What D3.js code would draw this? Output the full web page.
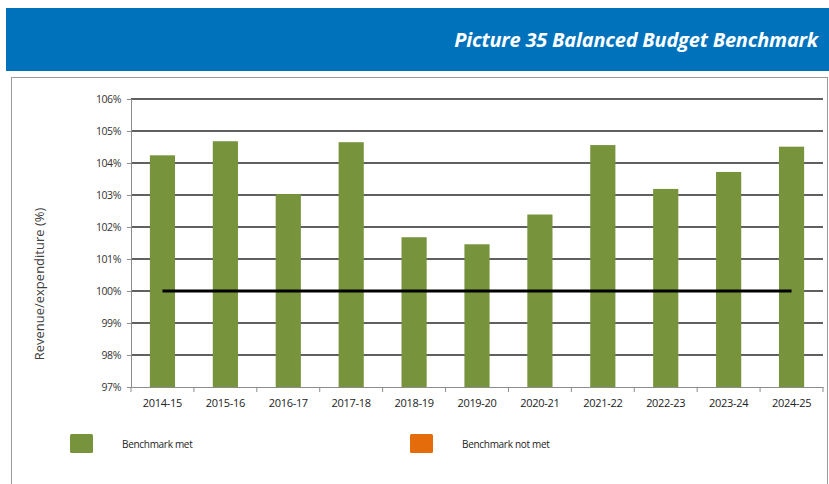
<!DOCTYPE html>
<html>
<head>
<meta charset="utf-8">
<script src="https://cdn.jsdelivr.net/npm/d3@7/dist/d3.min.js"></script>
<style>
  html, body { margin: 0; padding: 0; background: #ffffff; }
  svg { display: block; }
</style>
</head>
<body>
<svg id="chart" width="829" height="484"></svg>
<script>
// ---- data ----
const categories = ["2014-15","2015-16","2016-17","2017-18","2018-19","2019-20","2020-21","2021-22","2022-23","2023-24","2024-25"];
const ratioValues = [104.24, 104.68, 103.03, 104.65, 101.68, 101.46, 102.39, 104.56, 103.19, 103.72, 104.51];
const benchmarkValue = 100;
const yTicks = [97, 98, 99, 100, 101, 102, 103, 104, 105, 106];
const legendLabels = ["Benchmark met", "Benchmark not met"];
const titleText = "Picture 35 Balanced Budget Benchmark";
const yAxisTitle = "Revenue/expenditure (%)";

// ---- layout ----
const svg = d3.select("#chart");
const plot = { left: 131, right: 823, top: 99, bottom: 387 };
const green = "#77933C", orange = "#E46C0A";
const font = "'Open Sans', 'DejaVu Sans', sans-serif";

// header band
svg.append("rect").attr("x", 6).attr("y", 8).attr("width", 823).attr("height", 63).attr("fill", "#0072BC");
svg.append("text").attr("x", 818).attr("y", 47).attr("text-anchor", "end")
  .attr("fill", "#ffffff").attr("font-family", font).attr("font-weight", "bold")
  .attr("font-style", "italic").attr("font-size", 20).attr("letter-spacing", -0.2)
  .text(titleText);

// chart box
svg.append("rect").attr("x", 11.5).attr("y", 77.5).attr("width", 816).attr("height", 420)
  .attr("fill", "#ffffff").attr("stroke", "#9a9a9a").attr("stroke-width", 1);

// scales
const x = d3.scaleBand().domain(categories).range([plot.left, plot.right]).paddingInner(0.6).paddingOuter(0.3);
const xOuter = d3.scaleBand().domain(categories).range([plot.left, plot.right]).padding(0);
const y = d3.scaleLinear().domain([97, 106]).range([plot.bottom, plot.top]);

// gridlines
svg.append("g").selectAll("line").data(yTicks.filter(t => t > 97)).join("line")
  .attr("x1", plot.left).attr("x2", plot.right)
  .attr("y1", d => y(d)).attr("y2", d => y(d))
  .attr("stroke", "#2b2b2b").attr("stroke-width", 1.4);

// bars
svg.append("g").selectAll("rect").data(categories).join("rect")
  .attr("x", d => x(d)).attr("width", x.bandwidth())
  .attr("y", (d, i) => y(ratioValues[i]))
  .attr("height", (d, i) => y(97) - y(ratioValues[i]))
  .attr("fill", green);

// benchmark line
const lineGen = d3.line().x(d => xOuter(d) + xOuter.bandwidth() / 2).y(() => y(benchmarkValue));
svg.append("path").datum(categories).attr("d", lineGen)
  .attr("fill", "none").attr("stroke", "#000000").attr("stroke-width", 3);

// y axis
const yAxis = d3.axisLeft(y).tickValues(yTicks).tickFormat(d => d + "%").tickSize(4).tickPadding(6);
const gy = svg.append("g").attr("transform", `translate(${plot.left},0)`).call(yAxis);
gy.select(".domain").attr("stroke", "#8c8c8c");
gy.selectAll(".tick line").attr("stroke", "#8c8c8c");
gy.selectAll("text").attr("font-family", font).attr("font-size", 10.5).attr("fill", "#333333").attr("letter-spacing", -0.4);

// x axis
const xAxis = d3.axisBottom(xOuter).tickSize(0).tickPadding(12);
const gx = svg.append("g").attr("transform", `translate(0,${plot.bottom})`).call(xAxis);
gx.select(".domain").attr("stroke", "#8c8c8c");
gx.selectAll("text").attr("font-family", font).attr("font-size", 11).attr("fill", "#222222").attr("letter-spacing", -0.3);
// category boundary ticks
const bounds = categories.map(c => xOuter(c)).concat([plot.right]);
gx.append("g").selectAll("line").data(bounds).join("line")
  .attr("x1", d => d).attr("x2", d => d).attr("y1", 0).attr("y2", 5)
  .attr("stroke", "#8c8c8c");

// y axis title
svg.append("text").attr("transform", "translate(44,284) rotate(-90)")
  .attr("text-anchor", "middle").attr("font-family", font).attr("font-size", 13)
  .attr("fill", "#404040").text(yAxisTitle);

// legend
const legendX = [70, 410];
const legendColors = [green, orange];
const lg = svg.append("g").selectAll("g").data(legendLabels).join("g");
lg.append("rect").attr("x", (d, i) => legendX[i]).attr("y", 434).attr("width", 23).attr("height", 19)
  .attr("rx", 1.5).attr("fill", (d, i) => legendColors[i]);
lg.append("text").attr("x", (d, i) => legendX[i] + 52).attr("y", 447.5)
  .attr("font-family", font).attr("font-size", 10).attr("fill", "#222222").attr("letter-spacing", -0.3)
  .text(d => d);
</script>
</body>
</html>
